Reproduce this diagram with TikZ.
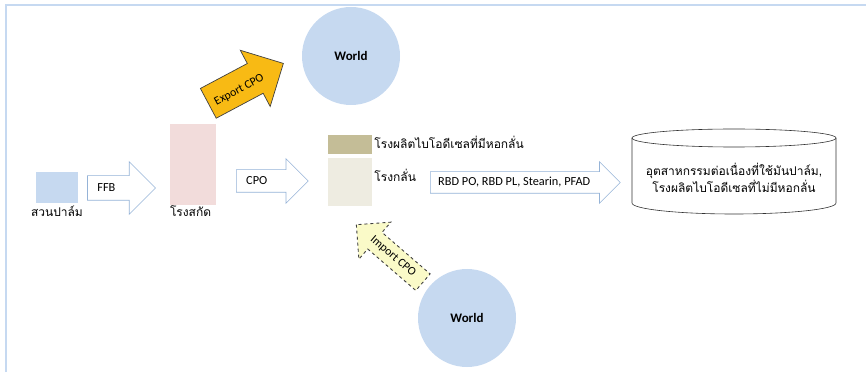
\documentclass[tikz,border=0pt]{standalone}
\usepackage{fontspec}
\setmainfont{Carlito}
\newfontfamily\thaifont[Script=Thai]{Loma}
\usepackage{tikz}
\usetikzlibrary{arrows.meta, calc, positioning, shapes.arrows}
\definecolor{frameblue}{HTML}{C6D9F1}
\definecolor{palmblue}{HTML}{C6D9F0}
\definecolor{millpink}{HTML}{F2DCDB}
\definecolor{biotan}{HTML}{C4BD97}
\definecolor{refinerybeige}{HTML}{EEECE1}
\definecolor{arrowedge}{HTML}{95B3D7}
\definecolor{exportgold}{HTML}{F8BA14}
\definecolor{importyellow}{HTML}{FAFAC8}
\tikzset{
  frame-line/.style={draw=frameblue, line width=1.6pt},
  % plants
  plant-box/.style={rectangle, inner sep=0pt},
  plant-label/.style={font=\thaifont\fontsize{12}{15}\selectfont, inner sep=0pt},
  % block arrows
  flow-arrow/.style={single arrow, draw=arrowedge, fill=white, line width=0.6pt, anchor=tail,
    inner xsep=0pt, text height=0pt, text depth=0pt, minimum width=0pt},
  flow-text/.style={font=\fontsize{12.3}{14}\selectfont, inner sep=0pt},
  trade-text/.style={font=\fontsize{11.8}{14}\selectfont, inner sep=0pt},
  %World
  world/.style={circle, fill=palmblue, minimum size=98pt, inner sep=0pt, font=\bfseries\fontsize{13}{14}\selectfont},
  cyl-line/.style={draw=black!80, line width=0.6pt}
}
\begin{document}
\begin{tikzpicture}[x=1pt, y=1pt]
    \useasboundingbox (0,0) rectangle (866,372);
    % Frame
    \draw[frame-line] (6,0) -- (6,367) -- (866,367);

    % Plants
    \node[plant-box, fill=palmblue, minimum width=42pt, minimum height=31pt] (palm) at (57,184.5) {};
    \node[plant-label, anchor=base west] (palm-lbl) at ($(palm.south west)+(-5,-13)$) {สวนปาล์ม};
    \node[plant-box, fill=millpink, minimum width=46pt, minimum height=81pt] (mill) at (193,207.5) {};
    \node[plant-label, anchor=base west] (mill-lbl) at ($(mill.south west)+(0,-11)$) {โรงสกัด};
    \node[plant-box, fill=biotan, minimum width=44pt, minimum height=19pt] (bio) at (350,227.5) {};
    \node[plant-label, anchor=base west] (bio-lbl) at ($(bio.east)+(2,-4.5)$) {โรงผลิตไบโอดีเซลที่มีหอกลั่น};
    \node[plant-box, fill=refinerybeige, minimum width=44pt, minimum height=48pt] (refinery) at (350,190) {};
    \node[plant-label, anchor=base west] (refinery-lbl) at ($(refinery.east)+(2,0)$) {โรงกลั่น};

    % Flow arrows
    \node[flow-arrow, minimum height=68pt, inner ysep=12pt, single arrow head extend=14pt] (ffb-arrow) at ($(palm.east)+(9,-0.5)$) {};
    \node[flow-text, right=10pt of ffb-arrow.tail] (ffb-lbl) {FFB};
    \node[flow-arrow, minimum height=72pt, inner ysep=11pt, single arrow head extend=11pt] (cpo-arrow) at (236,191) {};
    \node[flow-text, right=10pt of cpo-arrow.tail] (cpo-lbl) {CPO};
    \node[flow-arrow, minimum height=190pt, inner ysep=10.5pt, single arrow head extend=10pt] (rbd-arrow) at (430,189.5) {};
    \node[flow-text, right=8pt of rbd-arrow.tail] (rbd-lbl) {RBD PO, RBD PL, Stearin, PFAD};

    % Downstream industry
    \draw[cyl-line] (632,234) -- (632,169) arc[start angle=180, end angle=360, x radius=102, y radius=11] -- (836,234);
    \draw[cyl-line] (734,234) ellipse[x radius=102, y radius=9];
    \node[plant-label, align=center] (industry) at (734,194) {อุตสาหกรรมต่อเนื่องที่ใช้มันปาล์ม,\\โรงผลิตไบโอดีเซลที่ไม่มีหอกลั่น};

    % World
    \node[world] (world-out) at (351,316) {World};
    \node[world] (world-in) at (467,54) {World};

    % Trade arrows
    \node[single arrow, fill=exportgold, draw=black!75, line width=0.7pt, anchor=tail, rotate=28,
      inner xsep=0pt, text height=0pt, text depth=0pt, inner ysep=16.5pt, minimum width=0pt,
      minimum height=85pt, single arrow head extend=15pt] (export-arrow) at (208,268.5) {};
    \node[trade-text, rotate=28] (export-lbl) at ($(export-arrow.tail)!0.4!(export-arrow.tip)+(1,-3)$) {Export CPO};
    \node[single arrow, fill=importyellow, draw=black!75, dashed, line width=0.9pt, anchor=tail, rotate=139.2,
      inner xsep=0pt, text height=0pt, text depth=0pt, inner ysep=10.5pt, minimum width=0pt,
      minimum height=88pt, single arrow head extend=13.5pt] (import-arrow) at (423.3,89.5) {};
    \node[trade-text, rotate=-40.8] (import-lbl) at ($(import-arrow.tail)!0.45!(import-arrow.tip)$) {Import CPO};
\end{tikzpicture}
\end{document}
